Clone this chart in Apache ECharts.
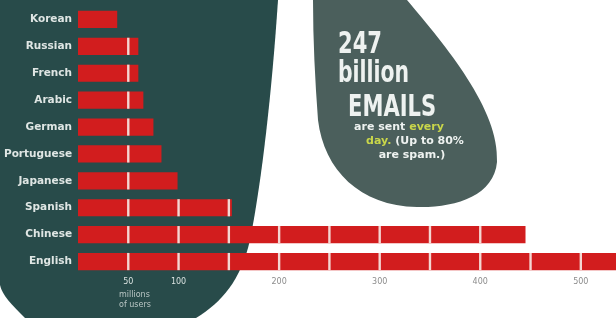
<!DOCTYPE html>
<html>
<head>
<meta charset="utf-8">
<script src="https://cdn.jsdelivr.net/npm/echarts@6/dist/echarts.min.js"></script>
<style>
  html, body { margin: 0; padding: 0; background: #fff; }
  #chart { width: 616px; height: 318px; }
</style>
</head>
<body>
<div id="chart"></div>
<script>
// languages, top to bottom
var languages = ["Korean", "Russian", "French", "Arabic", "German", "Portuguese", "Japanese", "Spanish", "Chinese", "English"];
// millions of users
var users = [39, 60, 60, 65, 75, 83, 99, 153, 445, 537];
var tickLabels = [50, 100, 200, 300, 400, 500];

var RED = "#d21d1e";
var GAP = "#f4d6d2";

var myChart = echarts.init(document.getElementById("chart"));

// bar with a white notch every 50 million
function renderBar(params, api) {
  var v = api.value(0);
  var c = api.value(1);
  var start = api.coord([0, c]);
  var end = api.coord([v, c]);
  var h = api.size([0, 1])[1] * 0.64;
  var kids = [{
    type: "rect",
    shape: { x: start[0], y: start[1] - h / 2, width: end[0] - start[0], height: h },
    style: { fill: RED }
  }];
  for (var k = 50; k < v; k += 50) {
    var p = api.coord([k, c]);
    kids.push({
      type: "rect",
      shape: { x: p[0] - 1.2, y: start[1] - h / 2, width: 2.4, height: h },
      style: { fill: GAP }
    });
  }
  return { type: "group", children: kids };
}

// background shapes (dark blob + teardrop)
function renderBackdrop() {
  return {
    type: "group",
    children: [
      {
        type: "path",
        shape: { pathData: "M0,0 L278,0 C272,90 262,180 250,240 C241,280 222,302 196,318 L25,318 C12,305 2,295 0,285 Z" },
        style: { fill: "#284b4a" }
      },
      {
        type: "path",
        shape: { pathData: "M313,0 L407,0 C445,45 500,110 497,162 C494,196 455,208 417,207 C360,206 324,170 318,120 C315,80 313,40 313,0 Z" },
        style: { fill: "#4b5f5c" }
      }
    ]
  };
}

var smallFont = "bold 11px 'DejaVu Sans'";

var option = {
  backgroundColor: "#ffffff",
  animation: false,
  graphic: {
    elements: [
      { type: "text", z: 10, x: 338, y: 29, scaleX: 0.68, style: { text: "247", fill: "#eef2f0", font: "bold 31px 'DejaVu Sans'" } },
      { type: "text", z: 10, x: 338, y: 59, scaleX: 0.68, style: { text: "billion", fill: "#eef2f0", font: "bold 30px 'DejaVu Sans'" } },
      { type: "text", z: 10, x: 348, y: 92, scaleX: 0.68, style: { text: "EMAILS", fill: "#eef2f0", font: "bold 31px 'DejaVu Sans'" } },
      {
        type: "text", z: 10, x: 399, y: 122,
        style: {
          text: "are sent {y|every}", align: "center", fill: "#eef2f0", font: smallFont,
          rich: { y: { fill: "#c9d64a", font: smallFont } }
        }
      },
      {
        type: "text", z: 10, x: 415, y: 136,
        style: {
          text: "{y|day.} (Up to 80%", align: "center", fill: "#eef2f0", font: smallFont,
          rich: { y: { fill: "#c9d64a", font: smallFont } }
        }
      },
      { type: "text", z: 10, x: 412, y: 150, style: { text: "are spam.)", align: "center", fill: "#eef2f0", font: smallFont } },
      { type: "text", z: 10, x: 119, y: 290, style: { text: "millions\nof users", fill: "#b9c6c4", font: "8px 'DejaVu Sans'", lineHeight: 10 } }
    ]
  },
  grid: { left: 78, right: 0, top: 6, bottom: 43 },
  xAxis: {
    type: "value",
    min: 0,
    max: 532,
    interval: 50,
    axisLine: { show: false },
    axisTick: { show: false },
    splitLine: { show: false },
    axisLabel: {
      margin: 3,
      fontSize: 8,
      fontFamily: "DejaVu Sans",
      formatter: function (v) {
        if (tickLabels.indexOf(v) < 0) return "";
        return v <= 100 ? "{w|" + v + "}" : "{g|" + v + "}";
      },
      rich: {
        w: { color: "#d9e2e0", fontSize: 8, fontFamily: "DejaVu Sans" },
        g: { color: "#8c8c8c", fontSize: 8, fontFamily: "DejaVu Sans" }
      }
    }
  },
  yAxis: {
    type: "category",
    data: languages,
    inverse: true,
    z: 10,
    axisLine: { show: false },
    axisTick: { show: false },
    axisLabel: { margin: 6, color: "#dfe6e4", fontSize: 10.5, fontWeight: "bold", fontFamily: "DejaVu Sans" }
  },
  series: [
    {
      type: "custom",
      z: 0,
      silent: true,
      renderItem: renderBackdrop,
      data: [[0, 0]]
    },
    {
      type: "custom",
      z: 5,
      renderItem: renderBar,
      encode: { x: 0, y: 1 },
      data: users.map(function (u, i) { return [u, i]; })
    }
  ]
};

myChart.setOption(option);
</script>
</body>
</html>
